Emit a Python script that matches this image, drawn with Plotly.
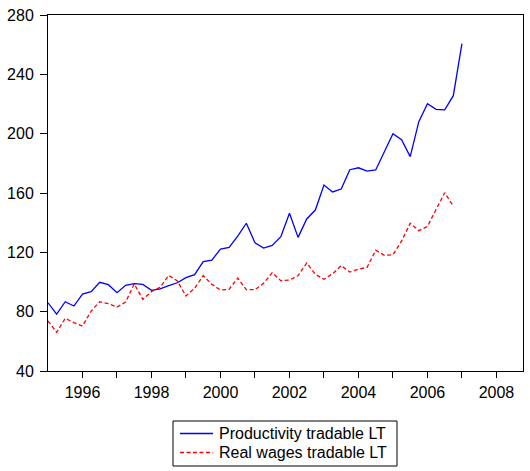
import plotly.graph_objects as go

start_year = 1995.0
productivity = [86, 78.4, 86.7, 83.8, 91.9, 93.5, 99.8, 98.2, 92.8, 97.8, 98.9, 98.4,
                94.4, 95.3, 97.5, 99.5, 102.9, 104.9, 113.7, 114.8, 122.2, 123.4, 131, 139.6,
                126.5, 122.9, 124.7, 130.5, 146.3, 130.1, 142.5, 148.5, 165.4, 160.7, 162.7, 175.7,
                177, 174.8, 175.5, 187.9, 200, 196, 184.5, 208.1, 220.2, 216.4, 216, 225.6, 260.7]
real_wages = [73.7, 66.1, 75.5, 72.6, 70.3, 80.4, 86.7, 85.4, 83.1, 86.5, 98.7, 88.3,
              93.5, 96.4, 104.5, 100.7, 90.6, 95.8, 104.3, 98.4, 94.6, 95.1, 102.7, 94.8,
              94.8, 99.1, 106.3, 100.9, 101.3, 104.3, 112.8, 105.2, 101.8, 105.6, 111, 106.7,
              108.6, 109.9, 121.4, 118, 118.4, 127.6, 139.6, 134.6, 137.5, 149, 160.2, 151.2]
series_names = ["Productivity tradable LT", "Real wages tradable LT"]
series_colors = ["#0000ff", "#ff0000"]
series_dash = ["solid", "4px,2.5px"]

x_prod = [start_year + i * 0.25 for i in range(len(productivity))]
x_wage = [start_year + i * 0.25 for i in range(len(real_wages))]

x_tickvals = list(range(1996, 2009))
x_ticktext = [str(y) if y % 2 == 0 else "" for y in x_tickvals]
y_tickvals = [40, 80, 120, 160, 200, 240, 280]

W, H = 530, 471
ML, MR, MT, MB = 48, 7, 15, 100
PW, PH = W - ML - MR, H - MT - MB

def px_x(px):
    return (px - ML) / PW

def px_y(py):
    return (H - MB - py) / PH

fig = go.Figure()
for xs, ys, name, col, dash in [(x_prod, productivity, series_names[0], series_colors[0], series_dash[0]),
                                (x_wage, real_wages, series_names[1], series_colors[1], series_dash[1])]:
    fig.add_trace(go.Scatter(x=xs, y=ys, mode="lines", name=name,
                             line=dict(color=col, width=1.3, dash=dash)))

# Manual legend (box, line samples, labels)
shapes = [dict(type="rect", xref="paper", yref="paper",
               x0=px_x(173), x1=px_x(397), y0=px_y(466), y1=px_y(421),
               line=dict(color="black", width=1), fillcolor="white", layer="above")]
annotations = []
for k, py in enumerate([433.5, 452.5]):
    shapes.append(dict(type="line", xref="paper", yref="paper",
                       x0=px_x(180), x1=px_x(213), y0=px_y(py), y1=px_y(py),
                       line=dict(color=series_colors[k], width=1.3, dash=series_dash[k])))
    annotations.append(dict(xref="paper", yref="paper", x=px_x(217), y=px_y(py),
                            xanchor="left", yanchor="middle", showarrow=False,
                            text=series_names[k],
                            font=dict(family="Liberation Sans, Arial", size=16, color="black")))

axis_common = dict(showgrid=False, zeroline=False, showline=True, linecolor="black",
                   linewidth=1, mirror=True, ticks="outside", tickcolor="black",
                   tickfont=dict(family="Liberation Sans, Arial", size=16, color="black"))

fig.update_layout(
    width=W, height=H,
    margin=dict(l=ML, r=MR, t=MT, b=MB, autoexpand=False),
    paper_bgcolor="white", plot_bgcolor="white",
    font=dict(family="Liberation Sans, Arial", size=16, color="black"),
    showlegend=False,
    shapes=shapes,
    annotations=annotations,
    xaxis=dict(range=[1995.0, 2008.77], tickvals=x_tickvals, ticktext=x_ticktext,
               ticklen=6, ticklabelstandoff=1, **axis_common),
    yaxis=dict(range=[40, 280], tickvals=y_tickvals, ticklen=7, ticklabelstandoff=3,
               **axis_common),
)

fig.write_html("out.html", config={"displayModeBar": False},
               post_script="document.body.style.margin='0';")
